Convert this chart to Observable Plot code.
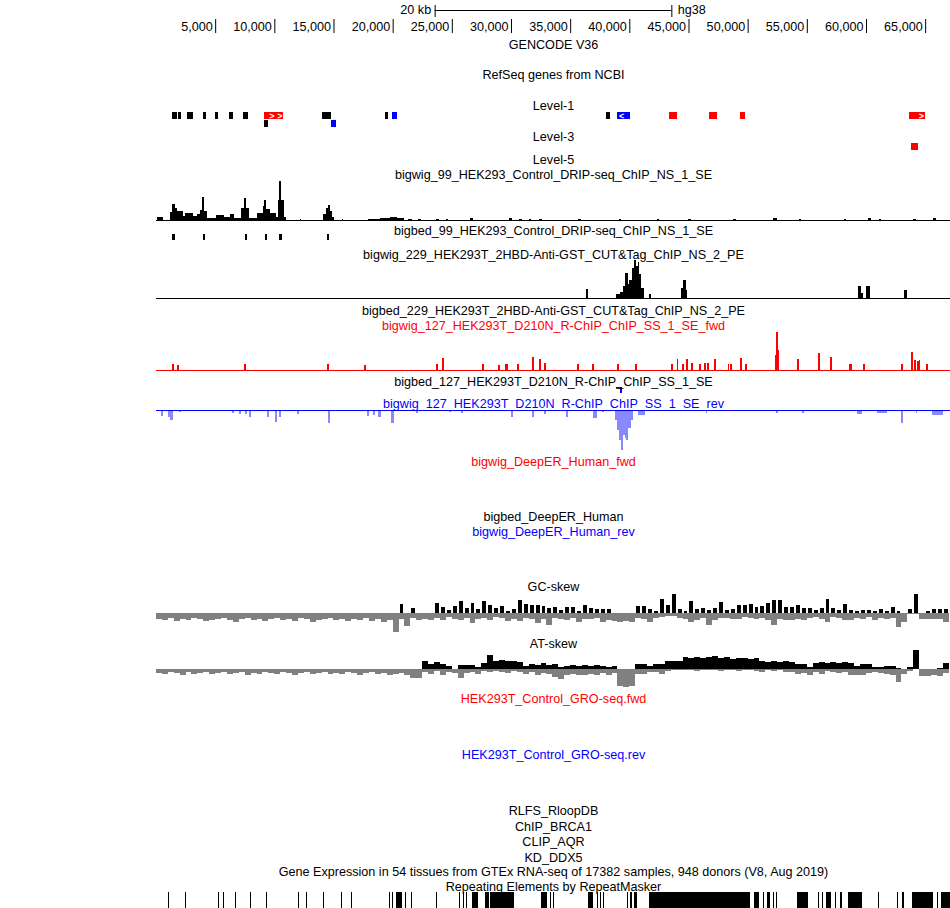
<!DOCTYPE html>
<html><head><meta charset="utf-8">
<script src="https://cdn.jsdelivr.net/npm/d3@7"></script>
<script src="https://cdn.jsdelivr.net/npm/@observablehq/plot@0.6"></script>
<style>
body{margin:0;background:#fff;}
#chart{position:relative;width:950px;height:908px;overflow:hidden;}
#chart > div{position:absolute;left:0;width:950px;}
#chart svg{display:block;background:transparent;max-width:none;}
</style></head><body><div id="chart"></div>
<script>
// ---------------- DATA (positions in kb) ----------------
const viewKb = [0, 67.1];
const rulerTicksKb = [5,10,15,20,25,30,35,40,45,50,55,60,65];
const scaleBarKb = 20;
const scaleBarLabel = "20 kb";
const assembly = "hg38";

const trackNames = ["GENCODE V36","RefSeq genes from NCBI","Level-1","Level-3","Level-5",
 "bigwig_99_HEK293_Control_DRIP-seq_ChIP_NS_1_SE","bigbed_99_HEK293_Control_DRIP-seq_ChIP_NS_1_SE",
 "bigwig_229_HEK293T_2HBD-Anti-GST_CUT&Tag_ChIP_NS_2_PE","bigbed_229_HEK293T_2HBD-Anti-GST_CUT&Tag_ChIP_NS_2_PE",
 "bigwig_127_HEK293T_D210N_R-ChIP_ChIP_SS_1_SE_fwd","bigbed_127_HEK293T_D210N_R-ChIP_ChIP_SS_1_SE",
 "bigwig_127_HEK293T_D210N_R-ChIP_ChIP_SS_1_SE_rev","bigwig_DeepER_Human_fwd","bigbed_DeepER_Human",
 "bigwig_DeepER_Human_rev","GC-skew","AT-skew","HEK293T_Control_GRO-seq.fwd","HEK293T_Control_GRO-seq.rev",
 "RLFS_RloopDB","ChIP_BRCA1","CLIP_AQR","KD_DDX5",
 "Gene Expression in 54 tissues from GTEx RNA-seq of 17382 samples, 948 donors (V8, Aug 2019)",
 "Repeating Elements by RepeatMasker"];
const trackStrand = ["","","","","","","","","","fwd","","rev","fwd","","rev","","","fwd","rev","","","","","",""];

// RefSeq genes: [start, end, kind, row]
const level1Genes = [
 [1.35,1.77,"other",0],[1.86,2.11,"other",0],[2.62,3.10,"other",0],[3.95,4.20,"other",0],
 [4.99,5.24,"other",0],[6.17,6.53,"other",0],[7.38,7.75,"other",0],[9.13,10.76,"plus",0],
 [14.03,14.79,"other",0],[19.38,19.60,"other",0],[19.94,20.34,"minus",0],[38.03,38.36,"other",0],
 [38.96,40.06,"minus",0],[43.35,44.03,"plus",0],[46.73,47.41,"plus",0],[49.35,49.77,"plus",0],
 [63.63,64.98,"plus",0],
 [9.13,9.44,"other",1],[14.79,15.19,"minus",1]
];
const level3Genes = [[63.80,64.37,"plus",0]];

// DRIP-seq signal: [start, end, value]
const dripSignal = [
 [0.08,0.6,3],[1.18,1.35,8],[1.35,1.61,16],[1.61,1.77,12],[1.77,2.28,9],[2.28,2.45,4],[2.45,3.13,7],
 [3.13,3.46,4],[3.46,3.72,6],[3.72,3.89,10],[3.89,4.06,23],[4.06,4.31,9],[4.31,5.07,2],[5.07,5.75,5],
 [5.75,6.25,3],[6.25,6.59,6],[6.59,7.18,2],[7.18,7.44,12],[7.44,7.61,22],[7.61,7.86,12],[7.86,8.53,2],
 [8.53,9.04,7],[9.04,9.13,14],[9.13,9.30,20],[9.30,9.63,11],[9.63,10.14,7],[10.14,10.31,3],[10.31,10.39,20],
 [10.39,10.56,39],[10.56,10.82,20],[10.82,10.99,3],[12.17,12.25,1],[14.11,14.37,6],[14.37,14.53,12],
 [14.53,14.70,15],[14.70,14.87,9],[14.87,15.04,3],[15.72,15.8,1],[17.9,18.9,1],[18.9,19.8,2],[19.8,20.4,3],
 [20.4,21.0,2],[21.3,21.6,1],[22.1,22.4,1],[23.7,23.9,1],[24.5,24.7,1],[26.5,26.8,2],[29.8,30.1,2],
 [30.7,30.9,1],[31.5,31.7,1],[32.4,32.6,1],[35.7,35.9,1],[39.1,39.3,1],[42.3,42.5,1],[45.0,45.2,1],
 [48.8,49.0,1],[52.1,52.5,2],[54.3,54.5,1],[58.1,58.3,1],[60.2,60.4,2],[61.1,61.3,1],[64.0,64.2,1],[65.7,65.9,2]
];
const dripPeaks = [[1.35,1.64],[3.97,4.14],[7.52,7.72],[9.21,9.41],[10.39,10.63],[14.45,14.62]];

// CUT&Tag signal
const cutTagSignal = [
 [36.3,36.55,9],[38.9,39.2,4],[39.2,39.5,6],[39.5,39.65,12],[39.65,39.85,25],[39.85,40.0,14],[40.0,40.2,18],
 [40.2,40.4,30],[40.4,40.55,38],[40.55,40.7,32],[40.7,40.85,36],[40.85,41.0,24],[41.0,41.2,10],[41.7,41.85,4],
 [44.35,44.5,10],[44.5,44.75,18],[44.75,44.9,8],[59.3,59.55,12],[59.55,59.75,5],[60.0,60.3,12],[63.2,63.45,8]
];

// R-ChIP forward / reverse
const rchipFwd = [
 [1.35,1.55,6],[1.8,1.95,5],[7.45,7.6,6],[14.45,14.6,6],[17.6,17.75,5],[23.7,23.85,6],[24.15,24.35,12],
 [27.55,27.7,6],[28.9,29.05,5],[29.5,29.75,6],[30.5,30.65,6],[31.75,31.95,13],[32.35,32.55,11],[32.8,32.95,7],
 [35.6,35.75,6],[36.85,37.0,6],[38.95,39.1,6],[40.5,40.65,6],[43.5,43.65,6],[44.0,44.15,11],[44.45,44.6,6],
 [44.8,44.95,11],[45.2,45.35,7],[45.9,46.05,6],[46.3,46.45,7],[46.6,46.75,7],[47.15,47.3,11],[48.3,48.4,6],
 [48.55,48.7,6],[49.35,49.5,12],[49.8,49.95,6],[52.3,52.4,15],[52.4,52.55,38],[52.55,52.65,20],[54.15,54.3,11],
 [55.95,56.1,17],[56.95,57.1,13],[58.6,58.7,6],[58.75,58.85,6],[59.75,59.9,6],[62.95,63.1,6],[63.8,63.95,18],
 [64.05,64.2,10],[64.3,64.45,9],[64.5,64.6,10],[65.1,65.2,6]
];
const rchipPeaks = [[38.90,39.40,39.25]]; // [start, end, thickStart]
const rchipRev = [
 [0.45,0.6,6],[1.0,1.2,7],[1.2,1.45,10],[1.95,2.1,2],[6.4,6.6,3],[7.0,7.2,4],[7.5,7.7,4],[7.85,8.0,7],
 [9.4,9.55,7],[10.05,10.2,12],[10.4,10.55,7],[11.95,12.1,4],[14.55,14.7,13],[17.8,18.0,6],[18.3,18.5,5],
 [18.8,19.0,7],[19.9,20.1,13],[22.0,22.1,3],[24.8,24.9,2],[25.8,25.95,3],[30.0,30.15,7],[31.8,31.95,7],
 [32.8,32.95,4],[34.65,34.8,7],[36.9,37.3,8],[37.7,37.85,2],[38.8,38.95,10],[38.95,39.15,20],[39.15,39.3,30],
 [39.3,39.45,40],[39.45,39.6,25],[39.6,39.75,28],[39.75,39.9,30],[39.9,40.1,18],[40.1,40.3,10],[40.7,41.3,5],
 [46.5,46.6,3],[52.4,52.55,3],[54.6,54.75,3],[59.2,59.7,4],[60.9,61.8,3],[62.95,63.1,13],[64.25,64.35,3],
 [65.6,66.5,5]
];

// GC / AT skew, 0.5 kb bins from 0 kb: positive part and negative part (magnitude)
const skewBinKb = 0.5;
const gcSkewPos = [
 0,0,0,0,0,0,0,0,0,0, 0,0,0,0,0,0,0,0,0,0, 0,0,0,0,0,0,0,0,0,0, 0,0,0,0,0,0,0,0,0,0,
 0,9,0,5,0,0,0,10,6,3, 7,12,5,10,4,12,8,5,7,2, 4,13,9,8,8,7,5,6,3,6, 6,2,8,5,4,4,4,0,0,0,
 0,7,7,4,2,14,8,19,4,2, 12,4,5,3,5,11,3,4,8,8, 9,6,7,10,13,13,6,6,8,5, 5,3,5,14,5,3,9,3,2,3,
 3,2,4,2,6,2,0,4,19,0, 2,4,4,4
];
const gcSkewNeg = [
 6,7,5,8,6,7,5,6,8,7, 6,5,7,9,6,5,7,6,8,6, 5,7,6,8,5,6,9,7,6,5, 7,6,8,6,7,5,8,6,9,7,
 19,6,13,5,7,6,7,5,7,4, 6,7,5,10,6,5,7,4,5,8, 6,8,5,6,10,6,12,5,6,7, 5,9,6,6,5,9,7,8,9,8,
 9,5,6,9,5,4,3,3,5,6, 9,7,5,12,7,5,5,6,6,4, 5,6,5,7,12,6,7,7,6,7, 5,4,6,9,4,5,7,7,5,6,
 4,7,5,6,5,14,9,1,1,6, 6,6,6,9
];
const atSkewPos = [
 0,0,0,0,0,0,0,0,0,0, 0,0,0,0,0,0,0,0,0,0, 0,0,0,0,0,0,0,0,0,0, 0,0,0,0,0,0,0,0,0,0,
 0,0,0,0,0,8,5,7,5,3, 0,4,4,4,2,6,14,8,9,8, 8,7,3,5,4,6,4,5,2,3, 4,3,4,3,4,3,2,3,0,0,
 0,5,5,3,5,5,8,8,8,12, 11,12,11,12,13,11,12,10,11,11, 10,11,8,7,8,7,8,7,5,5, 2,6,7,6,7,6,7,6,3,5,
 5,2,2,3,3,1,0,2,19,0, 0,0,1,6
];
const atSkewNeg = [
 4,5,3,4,6,3,5,4,3,5, 4,3,5,4,3,6,4,5,3,4, 5,3,4,6,4,3,5,4,3,5, 4,5,3,4,6,4,3,5,4,6,
 5,4,6,9,9,3,5,2,6,3, 4,9,4,3,5,2,3,2,3,4, 2,3,5,3,6,4,5,8,10,6, 5,6,6,5,6,4,6,4,17,18,
 17,5,5,3,3,5,2,1,1,1, 1,2,1,1,1,2,1,1,2,1, 1,2,3,1,2,1,3,3,5,4, 6,3,5,2,3,4,3,6,6,6,
 4,3,4,5,6,13,5,2,0,7, 7,6,7,4
];

// RepeatMasker elements: [start, end]
const repeatElements = [
 [1.01,1.10],[2.45,2.54],[5.24,5.32],[5.66,5.75],[6.68,6.76],[7.94,8.03],[9.30,9.38],[12.0,12.08],
 [12.68,12.76],[14.11,14.2],[15.63,15.72],[16.48,16.56],[19.69,19.77],[19.94,20.03],[20.28,20.79],
 [21.04,21.13],[21.55,21.63],[23.66,23.75],[25.6,25.69],[25.94,26.03],[26.2,26.28],[26.7,27.21],
 [27.8,28.14],[28.22,30.25],[32.53,33.04],[33.29,33.38],[33.55,33.63],[36.5,36.93],[37.27,37.35],
 [37.52,37.6],[37.77,37.86],[39.8,39.88],[40.05,40.22],[40.39,40.65],[41.66,50.19],[50.53,50.96],
 [51.3,51.38],[51.63,51.9],[52.14,52.22],[52.4,52.5],[54.17,55.1],[55.94,56.03],[56.28,56.37],
 [56.62,57.04],[57.38,57.46],[57.8,57.97],[58.48,59.66],[61.01,61.1],[62.62,62.7],[63.04,63.21],
 [63.89,65.66],[66.0,66.08],[66.33,67.1]
];

// ---------------- LAYOUT / STYLE ----------------
const W = 950, ML = 156, FULL_H = 908;
const FONT = '"Liberation Sans", Arial, Helvetica, sans-serif';
const FS = 12.6;
const labelY = [44,74,105,136,159,174,230,254,310,325,381,403,461,516,531,586,643,698,754,810,826,841,857,871,886];
const strandColor = {"": "black", fwd: "#ff0000", rev: "#0000ff"};
const geneColor = {other: "black", plus: "#ff0000", minus: "#0000ff"};
const chart = document.getElementById("chart");

function place(svg, top) {
  const div = document.createElement("div");
  div.style.top = top + "px";
  div.appendChild(svg);
  chart.appendChild(div);
}
function opts(height, extra) {
  return Object.assign({
    width: W, height, marginLeft: ML, marginRight: 0, marginTop: 0, marginBottom: 0,
    x: {domain: viewKb, axis: null},
    style: {background: "transparent", fontFamily: FONT, fontSize: FS + "px", overflow: "visible"}
  }, extra);
}
function signalTrack(segs, top, H, baseOff, fill, line, sign = 1) {
  place(Plot.plot(opts(H, {
    y: {domain: [-(H - baseOff), baseOff], range: [H, 0], axis: null},
    marks: [
      Plot.rect(segs, {x1: d => d[0], x2: d => d[1], y1: 0, y2: d => sign * d[2], fill, shapeRendering: "crispEdges"}),
      line ? Plot.ruleY([0], {stroke: line}) : null
    ]
  })), top);
}
function skewTrack(pos, neg, top, H, baseOff, posInset) {
  place(Plot.plot(opts(H, {
    y: {domain: [-(H - baseOff), baseOff], range: [H, 0], axis: null},
    marks: [
      Plot.rect(neg, {x1: (d, i) => i * skewBinKb, x2: (d, i) => (i + 1) * skewBinKb, y1: 0, y2: d => -d, fill: "#808080", shapeRendering: "crispEdges"}),
      Plot.rect(pos, {x1: (d, i) => i * skewBinKb, x2: (d, i) => (i + 1) * skewBinKb, y1: 0, y2: d => d, fill: "black",
        insetLeft: posInset, insetRight: posInset, shapeRendering: "crispEdges"})
    ]
  })), top);
}
function geneTrack(genes, top, rows) {
  const pxPerKb = (W - ML) / (viewKb[1] - viewKb[0]);
  const chevrons = [];
  for (const g of genes) {
    if (g[2] === "other") continue;
    const w = (g[1] - g[0]) * pxPerKb;
    const n = Math.floor((w - 2) / 7);
    for (let k = 0; k < n; k++) {
      const off = (4 + k * 8) / pxPerKb;
      chevrons.push({x: g[2] === "plus" ? g[1] - off : g[0] + off, row: g[3], t: g[2] === "plus" ? ">" : "<"});
    }
  }
  place(Plot.plot(opts(rows * 8, {
    y: {domain: [0, rows], range: [0, rows * 8], axis: null},
    color: {type: "identity"},
    marks: [
      Plot.rect(genes, {x1: d => d[0], x2: d => d[1], y1: d => d[3], y2: d => d[3] + 0.9, fill: d => geneColor[d[2]], shapeRendering: "crispEdges"}),
      Plot.text(chevrons, {x: "x", y: d => d.row + 0.45, text: "t", fill: "white", fontSize: 9, fontWeight: "bold"})
    ]
  })), top);
}

// ---------------- RULER ----------------
const mid = (viewKb[0] + viewKb[1]) / 2;
const barStart = mid - scaleBarKb / 2, barEnd = mid + scaleBarKb / 2;
place(Plot.plot(opts(36, {
  y: {type: "identity", axis: null},
  marks: [
    Plot.ruleX(rulerTicksKb, {x: d => d, y1: 19, y2: 33, stroke: "black"}),
    Plot.text(rulerTicksKb, {x: d => d, y: 26.5, text: d => d3.format(",")(d * 1000), textAnchor: "end", dx: -3, fontSize: FS, fill: "black"}),
    Plot.ruleY([10], {x1: barStart, x2: barEnd, stroke: "black"}),
    Plot.ruleX([barStart, barEnd], {x: d => d, y1: 5, y2: 17, stroke: "black"}),
    Plot.text([scaleBarLabel], {x: barStart, y: 9.5, text: d => d, textAnchor: "end", dx: -4, fontSize: FS, fill: "black"}),
    Plot.text([assembly], {x: barEnd, y: 9.5, text: d => d, textAnchor: "start", dx: 6, fontSize: FS, fill: "black"})
  ]
})), 0);

// ---------------- TRACKS ----------------
geneTrack(level1Genes, 112, 2);
geneTrack(level3Genes, 143, 1);

signalTrack(dripSignal, 180, 41, 40, "black", "black");
place(Plot.plot(opts(6, {
  y: {domain: [0, 1], range: [0, 6], axis: null},
  marks: [Plot.rect(dripPeaks, {x1: d => d[0], x2: d => d[1], y1: 0, y2: 1, fill: "black", shapeRendering: "crispEdges"})]
})), 234);

signalTrack(cutTagSignal, 259, 40, 39, "black", "black");
signalTrack(rchipFwd, 330, 41, 40, "#ff0000", "#ff0000");

place(Plot.plot(opts(7, {
  y: {domain: [0, 7], range: [0, 7], axis: null},
  marks: [
    Plot.rect(rchipPeaks, {x1: d => d[0], x2: d => d[1], y1: 0, y2: 1, fill: "#0000ff", shapeRendering: "crispEdges"}),
    Plot.rect(rchipPeaks, {x1: d => d[2], x2: d => d[1], y1: 0, y2: 6, fill: "#0000ff", shapeRendering: "crispEdges"})
  ]
})), 387);

signalTrack(rchipRev, 409, 42, 1, "#8888ff", "#0000ff", -1);

skewTrack(gcSkewPos, gcSkewNeg, 592, 42, 21, 1);
skewTrack(atSkewPos, atSkewNeg, 648, 40, 21, 0);

place(Plot.plot(opts(16, {
  y: {domain: [0, 1], range: [0, 16], axis: null},
  marks: [Plot.rect(repeatElements, {x1: d => d[0], x2: d => d[1], y1: 0, y2: 1, fill: "black", shapeRendering: "crispEdges"})]
})), 892);

// ---------------- TRACK LABELS ----------------
const labels = trackNames.map((name, i) => ({name, y: labelY[i], color: strandColor[trackStrand[i]]}));
place(Plot.plot(opts(FULL_H, {
  y: {type: "identity", axis: null},
  color: {type: "identity"},
  marks: [Plot.text(labels, {x: () => mid, y: "y", text: "name", fill: "color", fontSize: FS})]
})), 0);
</script></body></html>
